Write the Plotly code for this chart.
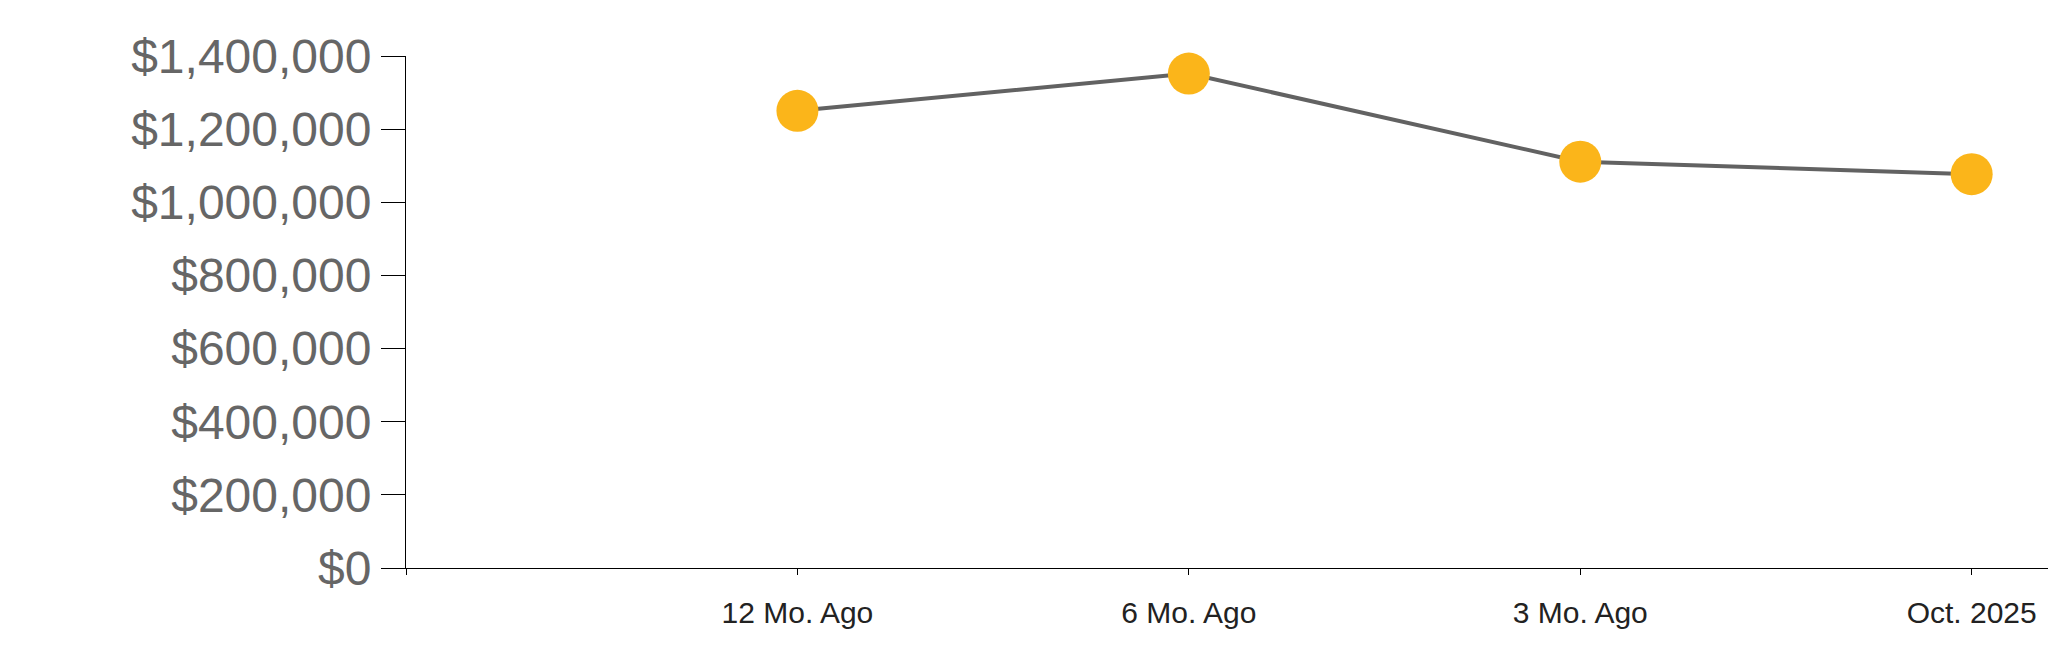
import plotly.graph_objects as go

categories = ["12 Mo. Ago", "6 Mo. Ago", "3 Mo. Ago", "Oct. 2025"]
values = [1250000, 1352000, 1111000, 1077000]
y_ticks = [0, 200000, 400000, 600000, 800000, 1000000, 1200000, 1400000]
y_tick_text = ["$" + format(v, ",") for v in y_ticks]

x_pos = list(range(len(categories)))

fig = go.Figure()
fig.add_trace(go.Scatter(
    x=x_pos, y=values, mode="lines+markers",
    line=dict(color="#626262", width=4),
    marker=dict(color="#FBB51A", size=42, line=dict(width=0)),
    cliponaxis=False, showlegend=False,
))

fig.update_layout(
    width=2048, height=663,
    margin=dict(l=406, r=0, t=56, b=95, autoexpand=False),
    paper_bgcolor="white", plot_bgcolor="white",
    font=dict(family="Liberation Sans, Arial, sans-serif"),
)
fig.update_xaxes(
    range=[-1, 3.195],
    tickmode="array", tickvals=[-1] + x_pos, ticktext=[""] + categories,
    ticks="outside", ticklen=6, tickcolor="black", tickwidth=1,
    showline=True, linecolor="black", linewidth=1,
    showgrid=False, zeroline=False, automargin=False,
    tickfont=dict(size=30, color="#222222"),
    ticklabelstandoff=12,
)
fig.update_yaxes(
    range=[0, 1400000],
    tickmode="array", tickvals=y_ticks, ticktext=y_tick_text,
    ticks="outside", ticklen=24, tickcolor="black", tickwidth=1,
    showline=True, linecolor="black", linewidth=1,
    showgrid=False, zeroline=False, automargin=False,
    tickfont=dict(size=48, color="#666666"),
)

page_css = (
    "document.documentElement.style.margin='0';"
    "document.documentElement.style.overflow='hidden';"
    "document.body.style.margin='0';"
    "document.body.style.overflow='hidden';"
)
fig.write_html("out.html", post_script=page_css,
               config={"displayModeBar": False})
